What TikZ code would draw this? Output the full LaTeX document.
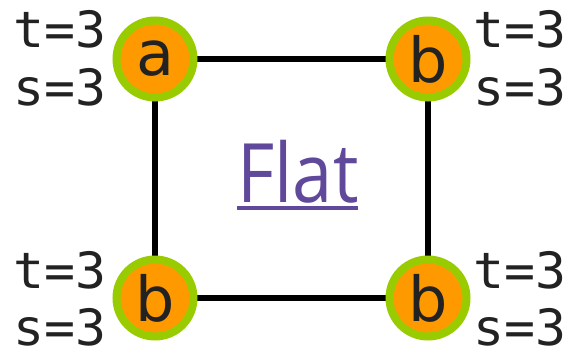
\documentclass[tikz,border=0pt]{standalone}
\usepackage{fontspec}
\setmainfont{Open Sans}
\newfontfamily\monofont{DejaVu Sans Mono}
\newfontfamily\letterfont{DejaVu Sans}
\definecolor{orangefill}{RGB}{255,153,0}
\definecolor{greenring}{RGB}{153,204,0}
\definecolor{flatpurple}{RGB}{96,73,155}
\definecolor{textdark}{RGB}{34,34,34}
\begin{document}
\begin{tikzpicture}[x=1pt,y=-1pt,
  vert/.style={circle,fill=orangefill,draw=greenring,line width=8pt,minimum size=77pt,inner sep=0pt,
    font=\letterfont\fontsize{62}{62}\selectfont,text=textdark},
  edge/.style={line width=6pt,black},
  lab/.style={inner sep=0pt,xscale=1.03,font=\monofont\fontsize{50}{50}\selectfont,text=textdark},
  labl/.style={lab,anchor=base west},
  labr/.style={lab,anchor=base east}]
\useasboundingbox (0,0) rectangle (568,357);
\draw[edge] (155,59) -- (428,59) -- (428,298) -- (155,298) -- cycle;
\node[vert] (a) at (155,59) {\raisebox{-3pt}{a}};
\node[vert] (b1) at (428,59) {\raisebox{-3pt}{b}};
\node[vert] (b2) at (155,298) {\raisebox{-3pt}{b}};
\node[vert] (b3) at (428,298) {\raisebox{-3pt}{b}};
\node[labl] (ta) at (13,47) {t=3};
\node[labl] (sa) at (13,105) {s=3};
\node[labr] (tb1) at (567,47) {t=3};
\node[labr] (sb1) at (567,105) {s=3};
\node[labl] (tb2) at (13,288) {t=3};
\node[labl] (sb2) at (13,345) {s=3};
\node[labr] (tb3) at (567,288) {t=3};
\node[labr] (sb3) at (567,345) {s=3};
\node[anchor=base,inner sep=0pt,xscale=0.88,text=flatpurple,font=\fontsize{82}{82}\selectfont] (flat) at (298,202) {Flat};
\coordinate (ul1) at (237,208);
\coordinate (ul2) at (358,208);
\draw[line width=4pt,flatpurple] (ul1) -- (ul2);
\end{tikzpicture}
\end{document}
